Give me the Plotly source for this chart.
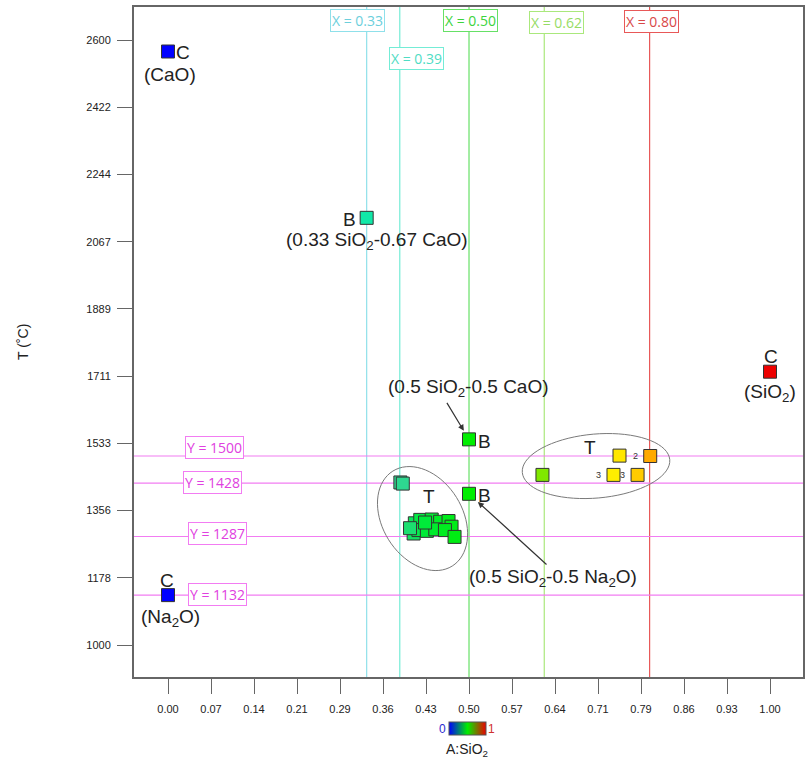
import math
import plotly.graph_objects as go

# ---------------- data ----------------
# end members (C)
end_x = [0.0, 0.0, 1.0]
end_T = [2570, 1132, 1723]
end_names = ["(CaO)", "(Na<sub>2</sub>O)", "(SiO<sub>2</sub>)"]

# binary compounds (B)
bin_x = [0.33, 0.50, 0.50]
bin_T = [2130, 1544, 1400]

# ternary compositions (T)
tern_x = [0.386, 0.390,
          0.410, 0.419, 0.438, 0.452, 0.466, 0.471, 0.408, 0.416,
          0.430, 0.444, 0.460, 0.476, 0.427, 0.402,
          0.622, 0.750, 0.801, 0.740, 0.780]
tern_T = [1430, 1427,
          1322, 1331, 1332, 1326, 1328, 1313, 1295, 1304,
          1302, 1306, 1304, 1286, 1324, 1309,
          1450, 1501, 1500, 1450, 1450]
tern_count = ["", "",
              "", "", "", "", "", "", "", "",
              "", "", "", "", "", "",
              "", "", "2", "3", "3"]

# reference lines
vlines = [0.33, 0.385, 0.50, 0.625, 0.80]
hlines = [1500, 1428, 1287, 1132]

x_ticks = [k / 14 for k in range(15)]
y_ticks = [1000 + k * 1600 / 9 for k in range(10)]

# ---------------- styles ----------------
FONT = "Liberation Sans, Arial, sans-serif"
LBLFONT = "Open Sans, Liberation Sans, sans-serif"
marker_scale = [[0.0, "#0000ff"], [0.33, "#10e8a8"], [0.39, "#2ed890"],
                [0.42, "#00ea40"], [0.5, "#00ee00"], [0.62, "#7ee800"],
                [0.74, "#ffee00"], [0.78, "#ffcc00"], [0.80, "#ffaa00"],
                [1.0, "#ee0000"]]
bar_scale = [[0.0, "#0000ff"], [0.5, "#00ee00"], [1.0, "#ee0000"]]
vcols = ["#8fe0ea", "#74ecd6", "#66e066", "#aae87c", "#e85858"]
vtext = ["#6ccfdc", "#4fdcc4", "#3cd43c", "#96dc64", "#d84848"]
vshift = [(-9, -13), (17, -51), (1, -13), (12, -15), (2, -14)]
hcol = "#f27cf2"
htext = "#e040e0"
hpos = [(0.121, 8.5), (0.1166, 0.6), (0.1248, 3), (0.1248, 0.6)]

mk = dict(symbol="square", size=13, colorscale=marker_scale, cmin=0, cmax=1,
          line=dict(color="#333333", width=1))

fig = go.Figure()
for xs, ts in [(end_x, end_T), (bin_x, bin_T), (tern_x, tern_T)]:
    fig.add_trace(go.Scatter(x=xs, y=ts, mode="markers",
                             marker=dict(mk, color=xs), hoverinfo="x+y"))

# colour bar trace (legend of A:SiO2)
fig.add_trace(go.Scatter(
    x=[None], y=[None], mode="markers",
    marker=dict(color=[0, 1], colorscale=bar_scale, cmin=0, cmax=1, showscale=True,
                colorbar=dict(orientation="h", x=0.4978, xanchor="center",
                              y=-0.067, yanchor="top", len=37, lenmode="pixels",
                              thickness=13, xpad=0, ypad=0, showticklabels=False,
                              ticks="", outlinecolor="#555", outlinewidth=1))))

shapes = []
annotations = []
for v, c, tc, (dx, dy) in zip(vlines, vcols, vtext, vshift):
    shapes.append(dict(type="line", xref="x", yref="paper", x0=v, x1=v, y0=0, y1=1,
                       line=dict(color=c, width=1.2), layer="below"))
    annotations.append(dict(x=v, y=1, xref="x", yref="paper", text=f"X = {v:.2f}",
                            xanchor="center", yanchor="middle",
                            showarrow=False, xshift=dx, yshift=dy, font=dict(family=LBLFONT, size=14, color=tc),
                            bgcolor="white", bordercolor=c, borderwidth=1, borderpad=1))
for h, (px, dy) in zip(hlines, hpos):
    shapes.append(dict(type="line", xref="paper", yref="y", x0=0, x1=1, y0=h, y1=h,
                       line=dict(color=hcol, width=1.2), layer="below"))
    annotations.append(dict(x=px, y=h, xref="paper", yref="y", text=f"Y = {h}",
                            xanchor="center", yanchor="middle",
                            showarrow=False, yshift=dy, font=dict(family=LBLFONT, size=14, color=htext),
                            bgcolor="white", bordercolor=hcol, borderwidth=1, borderpad=1))


def ellipse(cx, cy, a, b, ang):
    t = math.radians(ang)
    pts = []
    for i in range(73):
        u = 2 * math.pi * i / 72
        ex, ey = a * math.cos(u), b * math.sin(u)
        pts.append((ex * math.cos(t) - ey * math.sin(t), ex * math.sin(t) + ey * math.cos(t)))
    path = "M " + " L ".join(f"{p[0]:.2f},{p[1]:.2f}" for p in pts) + " Z"
    return dict(type="path", xref="x", yref="y", xsizemode="pixel", ysizemode="pixel",
                xanchor=cx, yanchor=cy, path=path, line=dict(color="#7a7a7a", width=1))


# ellipses around ternary groups (centre in data units, size in px)
tcx = [0.4228, 0.711]
tcy = [1334.5, 1473.4]
shapes.append(ellipse(tcx[0], tcy[0], 56, 40, -58))
shapes.append(ellipse(tcx[1], tcy[1], 74, 32, 5))

big = dict(family=FONT, size=19, color="#222")


def txt(x, y, s, dx=0, dy=0, f=big, **kw):
    annotations.append(dict(x=x, y=y, xref="x", yref="y", text=s, showarrow=False,
                            xanchor="center", yanchor="middle",
                            xshift=dx, yshift=dy, font=f, **kw))


# end-member labels
txt(end_x[0], end_T[0], "C", 15, -1)
txt(end_x[0], end_T[0], end_names[0], 2, -23)
txt(end_x[1], end_T[1], "C", -1, 15)
txt(end_x[1], end_T[1], end_names[1], 2, -23)
txt(end_x[2], end_T[2], "C", 1, 15)
txt(end_x[2], end_T[2], end_names[2], 0, -21)
# binary labels
txt(bin_x[0], bin_T[0], "B", -17, -2)
txt(bin_x[0], bin_T[0], "(0.33 SiO<sub>2</sub>-0.67 CaO)", 10, -23)
txt(bin_x[1], bin_T[1], "B", 15, -2)
txt(bin_x[1], bin_T[1], "(0.5 SiO<sub>2</sub>-0.5 CaO)", -1, 51)
txt(bin_x[2], bin_T[2], "B", 15, -2)
txt(bin_x[2], bin_T[2], "(0.5 SiO<sub>2</sub>-0.5 Na<sub>2</sub>O)", 84, -84)
# ternary group labels
txt(tcx[0], tcy[0], "T", 6, 22)
txt(tcx[1], tcy[1], "T", -6, 19)
for xv, tv, c in zip(tern_x, tern_T, tern_count):
    if c:
        txt(xv, tv, c, -15, 0, dict(family=FONT, size=9, color="#333"))

# arrows
for i, (ax, ay, so) in zip([1, 2], [(-23, -38, 10), (79, 72, 12)]):
    annotations.append(dict(x=bin_x[i], y=bin_T[i], xref="x", yref="y", text="",
                            showarrow=True, ax=ax, ay=ay, standoff=so, arrowhead=2,
                            arrowsize=1, arrowwidth=1.2, arrowcolor="#333"))

# y title and colour-bar labels
annotations.append(dict(x=-0.166, y=0.5, xref="paper", yref="paper", text="T (˚C)",
                        xanchor="center", yanchor="middle",
                        textangle=-90, showarrow=False, font=dict(family=FONT, size=14, color="#222")))
annotations.append(dict(x=0.4604, y=-0.0776, xref="paper", yref="paper", text="0",
                        xanchor="center", yanchor="middle",
                        showarrow=False, font=dict(family=FONT, size=12, color="#2b2bd0")))
annotations.append(dict(x=0.5350, y=-0.0776, xref="paper", yref="paper", text="1",
                        xanchor="center", yanchor="middle",
                        showarrow=False, font=dict(family=FONT, size=12, color="#d03030")))
annotations.append(dict(x=0.4978, y=-0.109, xref="paper", yref="paper", text="A:SiO<sub>2</sub>",
                        xanchor="center", yanchor="middle",
                        showarrow=False, font=dict(family=FONT, size=14, color="#222")))

axis_common = dict(showgrid=False, zeroline=False, showline=True, mirror=True,
                   linecolor="#666", linewidth=2, ticks="outside", ticklen=15,
                   tickwidth=1, tickcolor="#666",
                   tickfont=dict(family=FONT, size=11, color="#222"))

fig.update_layout(
    width=805, height=764,
    margin=dict(l=134, r=2, t=7, b=87, autoexpand=False),
    plot_bgcolor="white", paper_bgcolor="white",
    showlegend=False,
    xaxis=dict(axis_common, range=[-0.0565, 1.0548], tickvals=x_ticks, tickformat=".2f",
               ticklabelstandoff=6),
    yaxis=dict(axis_common, range=[915.4, 2687.7], tickvals=y_ticks, tickformat=".0f",
               ticklabelstandoff=4),
    shapes=shapes, annotations=annotations,
)

fig.write_html("out.html", config=dict(displayModeBar=False),
               post_script="document.body.style.margin='0';document.body.style.overflow='hidden';")
